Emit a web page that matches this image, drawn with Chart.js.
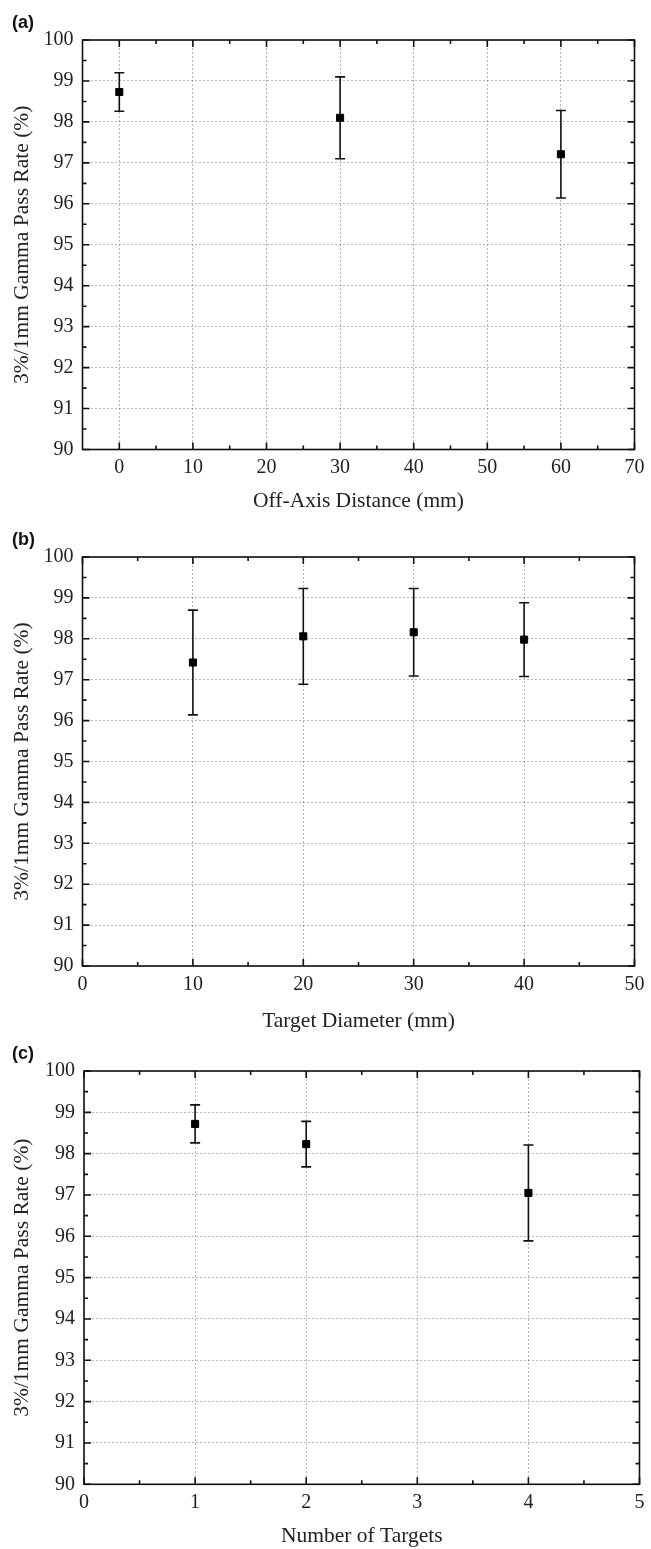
<!DOCTYPE html>
<html lang="en">
<head>
  <meta charset="UTF-8" />
  <title>Gamma Pass Rate</title>
  <style>
    body {
      margin: 0;
      background: #fff;
      width: 651px;
      height: 1549px;
      position: relative;
      overflow: hidden;
    }
    .panel {
      position: absolute;
      left: 0;
      width: 651px;
    }
    .panel canvas {
      display: block;
    }
    .tag {
      position: absolute;
      left: 12px;
      font-family: "Liberation Sans", Arial, sans-serif;
      font-weight: bold;
      font-size: 18px;
      color: #111;
    }
  </style>
</head>
<body>

<div class="panel" style="top:0px">
  <canvas id="chartA" width="651" height="520"></canvas>
  <span class="tag" style="top:12px">(a)</span>
</div>
<div class="panel" style="top:520px">
  <canvas id="chartB" width="651" height="515"></canvas>
  <span class="tag" style="top:9px">(b)</span>
</div>
<div class="panel" style="top:1035px">
  <canvas id="chartC" width="651" height="514"></canvas>
  <span class="tag" style="top:8px">(c)</span>
</div>

<script src="https://cdn.jsdelivr.net/npm/chart.js"></script>
<script>
  // (a) off-axis distance
  const distA = [0, 30, 60];
  const passA = [98.73, 98.1, 97.21];
  const errA = [0.47, 1.0, 1.07];
  const xTicksA = [0, 10, 20, 30, 40, 50, 60, 70];

  // (b) target diameter
  const diamB = [10, 20, 30, 40];
  const passB = [97.42, 98.06, 98.16, 97.98];
  const errB = [1.28, 1.17, 1.07, 0.9];
  const xTicksB = [0, 10, 20, 30, 40, 50];

  // (c) number of targets
  const countC = [1, 2, 4];
  const passC = [98.72, 98.23, 97.05];
  const errC = [0.46, 0.55, 1.16];
  const xTicksC = [0, 1, 2, 3, 4, 5];

  const yTicks = [90, 91, 92, 93, 94, 95, 96, 97, 98, 99, 100];
  const yTitle = '3%/1mm Gamma Pass Rate (%)';

  const serif = "'Liberation Serif', 'Times New Roman', serif";

  // midpoints between major ticks -> minor ticks
  function halves(ticks, lo, hi) {
    const out = [];
    for (let i = 0; i < ticks.length - 1; i++) out.push((ticks[i] + ticks[i + 1]) / 2);
    if (ticks[0] - lo > 0) out.unshift(ticks[0] - (ticks[1] - ticks[0]) / 2);
    return out.filter(v => v > lo && v < hi);
  }

  // error bars under the points, box + inward ticks on top
  const framePlugin = {
    id: 'frame',
    beforeDatasetsDraw(chart, args, opts) {
      const ctx = chart.ctx;
      const xs = chart.scales.x, ys = chart.scales.y;
      const d = chart.data.datasets[0].data;
      ctx.save();
      ctx.strokeStyle = '#111';
      ctx.lineWidth = 1.6;
      d.forEach((p, i) => {
        const px = xs.getPixelForValue(p.x);
        const top = ys.getPixelForValue(p.y + opts.err[i]);
        const bot = ys.getPixelForValue(p.y - opts.err[i]);
        ctx.beginPath();
        ctx.moveTo(px, top); ctx.lineTo(px, bot);
        ctx.moveTo(px - 5, top); ctx.lineTo(px + 5, top);
        ctx.moveTo(px - 5, bot); ctx.lineTo(px + 5, bot);
        ctx.stroke();
      });
      ctx.restore();
    },
    afterDraw(chart, args, opts) {
      const ctx = chart.ctx;
      const a = chart.chartArea;
      const xs = chart.scales.x, ys = chart.scales.y;
      ctx.save();
      ctx.strokeStyle = '#111';
      ctx.lineWidth = 1.6;
      ctx.strokeRect(a.left, a.top, a.right - a.left, a.bottom - a.top);
      ctx.beginPath();
      const xt = (v, len) => {
        const px = xs.getPixelForValue(v);
        ctx.moveTo(px, a.bottom); ctx.lineTo(px, a.bottom - len);
        ctx.moveTo(px, a.top); ctx.lineTo(px, a.top + len);
      };
      const yt = (v, len) => {
        const py = ys.getPixelForValue(v);
        ctx.moveTo(a.left, py); ctx.lineTo(a.left + len, py);
        ctx.moveTo(a.right, py); ctx.lineTo(a.right - len, py);
      };
      opts.xMajor.forEach(v => xt(v, 7));
      opts.xMinor.forEach(v => xt(v, 4));
      opts.yMajor.forEach(v => yt(v, 7));
      opts.yMinor.forEach(v => yt(v, 4));
      ctx.stroke();
      ctx.restore();
    }
  };

  function makeChart(id, xv, yv, err, xMin, xMax, xTicks, xTitle, g) {
    const ctx = document.getElementById(id).getContext('2d');
    return new Chart(ctx, {
      type: 'scatter',
      data: {
        datasets: [{
          data: xv.map((x, i) => ({ x: x, y: yv[i] })),
          pointStyle: 'rect',
          pointRadius: 5,
          backgroundColor: '#000',
          borderColor: '#000',
          borderWidth: 1
        }]
      },
      options: {
        responsive: false,
        animation: false,
        layout: { padding: { left: 0, top: g.top, right: g.right, bottom: 0 } },
        plugins: {
          legend: { display: false },
          tooltip: { enabled: false },
          frame: {
            err: err,
            xMajor: xTicks,
            xMinor: halves(xTicks, xMin, xMax),
            yMajor: yTicks,
            yMinor: halves(yTicks, 90, 100)
          }
        },
        scales: {
          x: {
            type: 'linear',
            min: xMin,
            max: xMax,
            afterBuildTicks: s => { s.ticks = xTicks.map(v => ({ value: v })); },
            afterFit: s => { s.height = g.xHeight; },
            grid: { drawTicks: false, color: 'rgba(0,0,0,0.28)', lineWidth: 1, borderDash: [2, 2] },
            border: { display: false, dash: [2, 2] },
            ticks: { padding: 6.5, color: '#222', font: { family: serif, size: 20 } },
            title: {
              display: true, text: xTitle, color: '#222',
              font: { family: serif, size: 21.5 },
              padding: { top: 0, bottom: g.titlePad }
            }
          },
          y: {
            min: 90,
            max: 100,
            afterBuildTicks: s => { s.ticks = yTicks.map(v => ({ value: v })); },
            afterFit: s => { s.width = g.left; },
            grid: { drawTicks: false, color: 'rgba(0,0,0,0.28)', lineWidth: 1, borderDash: [2, 2] },
            border: { display: false, dash: [2, 2] },
            ticks: { padding: 9, color: '#222', font: { family: serif, size: 20 } },
            title: {
              display: true, text: yTitle, color: '#222',
              font: { family: serif, size: 21.5 },
              padding: { top: 9, bottom: 0 }
            }
          }
        }
      },
      plugins: [framePlugin]
    });
  }

  makeChart('chartA', distA, passA, errA, -5, 70, xTicksA, 'Off-Axis Distance (mm)',
    { top: 40, right: 13.5, left: 82.5, xHeight: 70.5, titlePad: 6 });
  makeChart('chartB', diamB, passB, errB, 0, 50, xTicksB, 'Target Diameter (mm)',
    { top: 37, right: 13.5, left: 82.5, xHeight: 69, titlePad: 1 });
  makeChart('chartC', countC, passC, errC, 0, 5, xTicksC, 'Number of Targets',
    { top: 36, right: 9, left: 84, xHeight: 64.7, titlePad: 0 });
</script>

</body>
</html>
